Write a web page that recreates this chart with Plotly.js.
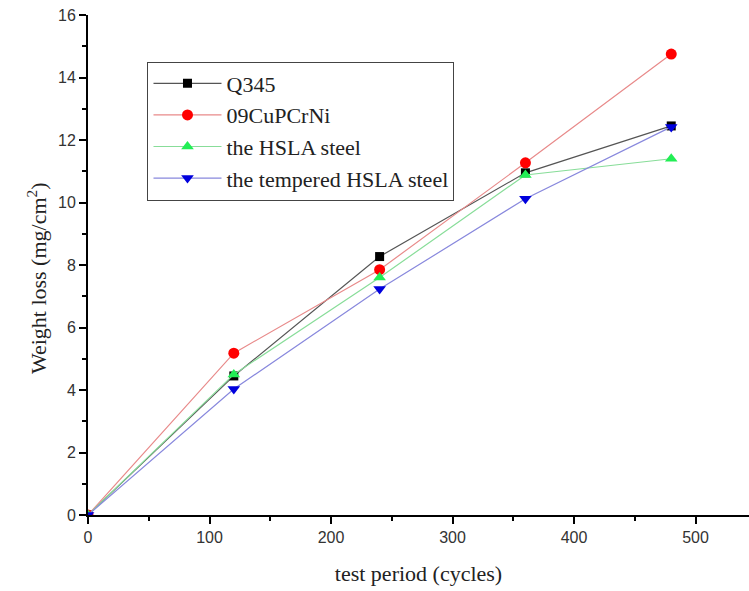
<!DOCTYPE html>
<html>
<head>
<meta charset="utf-8">
<script src="https://cdn.plot.ly/plotly-3.0.1.min.js"></script>
<style>html,body{margin:0;padding:0;background:#fff;}#chart{width:749px;height:591px;}</style>
</head>
<body>
<div id="chart"></div>
<script>
var cycles = [0, 120, 240, 360, 480];
var q345 = [0, 4.45, 8.27, 10.95, 12.45];
var cupcrni = [0, 5.18, 7.85, 11.27, 14.75];
var hsla = [0, 4.5, 7.6, 10.88, 11.4];
var tempered = [0, 4.03, 7.23, 10.12, 12.42];
var seriesNames = ["Q345", "09CuPCrNi", "the HSLA steel", "the tempered HSLA steel"];

var traces = [
  {x: cycles, y: q345, name: seriesNames[0], mode: "lines+markers",
   line: {color: "#555555", width: 1.2},
   marker: {symbol: "square", size: 9, color: "#000000"}},
  {x: cycles, y: cupcrni, name: seriesNames[1], mode: "lines+markers",
   line: {color: "#e88a8a", width: 1.2},
   marker: {symbol: "circle", size: 11, color: "#ff0000"}},
  {x: cycles, y: hsla, name: seriesNames[2], mode: "lines+markers",
   line: {color: "#88dd99", width: 1.2},
   marker: {symbol: "triangle-up", size: 11, color: "#22ee55"}},
  {x: cycles, y: tempered, name: seriesNames[3], mode: "lines+markers",
   line: {color: "#8888dd", width: 1.2},
   marker: {symbol: "triangle-down", size: 11, color: "#0000dd"}}
];

var serif = "Liberation Serif, Times New Roman, serif";
var layout = {
  width: 749, height: 591,
  margin: {l: 88, r: 0, t: 15, b: 76},
  paper_bgcolor: "#ffffff", plot_bgcolor: "#ffffff",
  showlegend: true,
  legend: {
    x: 0.090, y: 0.907, xanchor: "left", yanchor: "top",
    bordercolor: "#444444", borderwidth: 1, bgcolor: "#ffffff",
    font: {family: serif, size: 22, color: "#222222"},
    itemwidth: 68, tracegroupgap: 0
  },
  xaxis: {
    range: [0, 544], showgrid: false, zeroline: false,
    showline: true, linecolor: "#000000", linewidth: 2,
    ticks: "outside", ticklen: 7, tickwidth: 2, tickcolor: "#000000",
    tick0: 0, dtick: 100,
    minor: {dtick: 50, ticks: "outside", ticklen: 4, tickwidth: 2, tickcolor: "#000000", showgrid: false},
    tickfont: {family: "Liberation Sans, Arial, sans-serif", size: 16, color: "#333333"},
    title: {text: "test period (cycles)", standoff: 20,
            font: {family: serif, size: 22, color: "#222222"}}
  },
  yaxis: {
    range: [0, 16], showgrid: false, zeroline: false,
    showline: true, linecolor: "#000000", linewidth: 2,
    ticks: "outside", ticklen: 7, tickwidth: 2, tickcolor: "#000000",
    tick0: 0, dtick: 2,
    minor: {dtick: 1, ticks: "outside", ticklen: 4, tickwidth: 2, tickcolor: "#000000", showgrid: false},
    tickfont: {family: "Liberation Sans, Arial, sans-serif", size: 16, color: "#333333"}
  },
  annotations: [{
    text: "Weight loss (mg/cm<sup>2</sup>)", textangle: -90,
    xref: "paper", yref: "paper", x: -0.077, y: 0.474,
    xanchor: "center", yanchor: "middle", showarrow: false,
    font: {family: serif, size: 22, color: "#222222"}
  }]
};

Plotly.newPlot("chart", traces, layout, {displayModeBar: false, staticPlot: true});
</script>
</body>
</html>
